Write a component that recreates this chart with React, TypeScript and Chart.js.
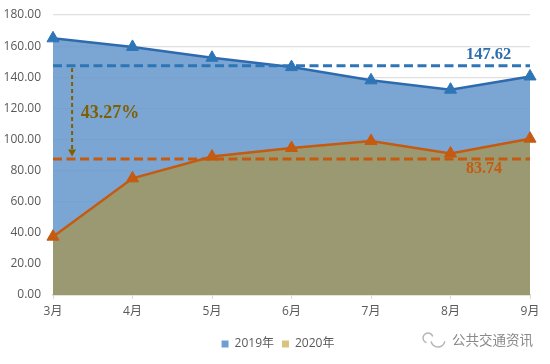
import React, { useEffect, useRef } from "react";
import { Chart, registerables } from "chart.js";

Chart.register(...registerables);

const categories = ["3月", "4月", "5月", "6月", "7月", "8月", "9月"];
const series2019 = [165, 159.5, 152.5, 146.5, 138, 132, 140.5];
const series2020 = [37.5, 75, 89, 94.5, 99, 91, 100.5];
const avg2019Line = [147.4, 147.4, 147.4, 147.4, 147.4, 147.4, 147.4];
const avg2020Line = [87.5, 87.5, 87.5, 87.5, 87.5, 87.5, 87.5];
const legendNames = ["2019年", "2020年"];
const legendColors = ["#6F9FD0", "#D8C47F"];
const label2019 = "147.62";
const label2020 = "83.74";
const labelGap = "43.27%";
const watermark = "公共交通资讯";

const FONT = "'Open Sans','Noto Sans CJK SC',sans-serif";
const SERIF = "'Liberation Serif',serif";

const annotations = {
  id: "annotations",
  afterLayout(chart: any) {
    if (chart.legend) {
      chart.legend.left += 13;
      chart.legend.right += 13;
    }
  },
  afterDatasetsDraw(chart: any) {
    const { ctx, scales } = chart;
    const x = scales.x;
    const y = scales.y;
    const ax = x.getPixelForValue(0.24);
    const y0 = y.getPixelForValue(146);
    const y1 = y.getPixelForValue(89);
    ctx.save();
    ctx.strokeStyle = "#7F6000";
    ctx.fillStyle = "#7F6000";
    ctx.lineWidth = 2;
    ctx.setLineDash([4, 3]);
    ctx.beginPath();
    ctx.moveTo(ax, y0);
    ctx.lineTo(ax, y1 - 6);
    ctx.stroke();
    ctx.setLineDash([]);
    ctx.beginPath();
    ctx.moveTo(ax - 4, y1 - 7);
    ctx.lineTo(ax + 4, y1 - 7);
    ctx.lineTo(ax, y1);
    ctx.closePath();
    ctx.fill();

    ctx.textBaseline = "middle";
    ctx.textAlign = "left";
    ctx.font = `bold 18px ${SERIF}`;
    ctx.fillStyle = "#7F6000";
    ctx.fillText(labelGap, x.getPixelForValue(0.35), y.getPixelForValue(117));

    ctx.textAlign = "center";
    ctx.font = `bold 16.5px ${SERIF}`;
    ctx.fillStyle = "#2E6EAE";
    ctx.fillText(label2019, x.getPixelForValue(5.48), y.getPixelForValue(154.3));
    ctx.font = `bold 16px ${SERIF}`;
    ctx.fillStyle = "#C55A11";
    ctx.fillText(label2020, x.getPixelForValue(5.42), y.getPixelForValue(81));

    ctx.font = "13.5px 'Noto Sans CJK SC',sans-serif";
    ctx.textAlign = "left";
    ctx.fillStyle = "#8a8a8a";
    ctx.fillText(watermark, 452, 340);
    ctx.strokeStyle = "#b5b5b5";
    ctx.lineWidth = 1.5;
    ctx.beginPath();
    ctx.arc(438, 340, 7, 0.2, Math.PI - 0.2);
    ctx.stroke();
    ctx.beginPath();
    ctx.arc(428, 338, 5, Math.PI * 0.6, Math.PI * 1.9);
    ctx.stroke();
    ctx.restore();
  },
};

export default function App() {
  const ref = useRef<HTMLCanvasElement>(null);
  useEffect(() => {
    const chart = new Chart(ref.current!, {
      type: "line",
      data: {
        labels: categories,
        datasets: [
          {
            label: legendNames[0],
            data: series2019,
            order: 5,
            fill: "origin",
            backgroundColor: "rgba(100,150,205,0.85)",
            borderColor: "#2E6AAE",
            borderWidth: 2.5,
            tension: 0,
            pointStyle: "triangle",
            pointRadius: 7,
            pointBackgroundColor: "#2E75B6",
            pointBorderColor: "#2E75B6",
            pointBorderWidth: 1,
            clip: false,
          },
          {
            label: legendNames[1],
            data: series2020,
            order: 4,
            fill: "origin",
            backgroundColor: "rgba(157,153,106,0.93)",
            borderColor: "#C55A11",
            borderWidth: 2.5,
            tension: 0,
            pointStyle: "triangle",
            pointRadius: 7,
            pointBackgroundColor: "#C55A11",
            pointBorderColor: "#C55A11",
            pointBorderWidth: 1,
            clip: false,
          },
          {
            label: "avg2019",
            data: avg2019Line,
            order: 2,
            fill: false,
            borderColor: "#2E75B6",
            borderWidth: 3,
            borderDash: [9, 4.5],
            pointRadius: 0,
            tension: 0,
          },
          {
            label: "avg2020",
            data: avg2020Line,
            order: 1,
            fill: false,
            borderColor: "#C55A11",
            borderWidth: 3,
            borderDash: [9, 4.5],
            pointRadius: 0,
            tension: 0,
          },
        ] as any,
      },
      options: {
        responsive: false,
        animation: false,
        layout: { padding: { top: 0, right: 20, bottom: 4, left: 0 } },
        plugins: {
          title: { display: false },
          tooltip: { enabled: false },
          legend: {
            position: "bottom",
            labels: {
              boxWidth: 7,
              boxHeight: 7,
              padding: 8,
              color: "#595959",
              font: { family: FONT, size: 12 },
              generateLabels: () =>
                legendNames.map((n, i) => ({
                  text: n,
                  fillStyle: legendColors[i],
                  strokeStyle: legendColors[i],
                  lineWidth: 0,
                  datasetIndex: i,
                  fontColor: "#595959",
                })),
            },
          },
        },
        scales: {
          x: {
            offset: false,
            afterFit: (s: any) => {
              s.height = 35;
            },
            grid: {
              drawOnChartArea: false,
              drawTicks: true,
              tickLength: 4,
              color: "#D9D9D9",
            },
            border: { color: "#D9D2B0", width: 1.5 },
            ticks: {
              color: "#595959",
              font: { family: FONT, size: 12 },
              maxRotation: 0,
              autoSkip: false,
              padding: 5,
            },
          },
          y: {
            min: 0,
            max: 180,
            afterFit: (s: any) => {
              s.width = 53;
              s.paddingTop = 15;
              s.paddingBottom = 0;
            },
            grid: { color: "rgba(130,130,130,0.25)", drawTicks: false, lineWidth: 1.2 },
            border: { display: false },
            ticks: {
              stepSize: 20,
              color: "#595959",
              font: { family: FONT, size: 12 },
              padding: 12,
              callback: (v: any) => Number(v).toFixed(2),
            },
          },
        },
      },
      plugins: [annotations],
    } as any);
    return () => chart.destroy();
  }, []);
  return (
    <div style={{ position: "absolute", left: 0, top: 0, width: 550, height: 364, background: "#fff" }}>
      <canvas ref={ref} width={550} height={364} style={{ display: "block" }} />
    </div>
  );
}
